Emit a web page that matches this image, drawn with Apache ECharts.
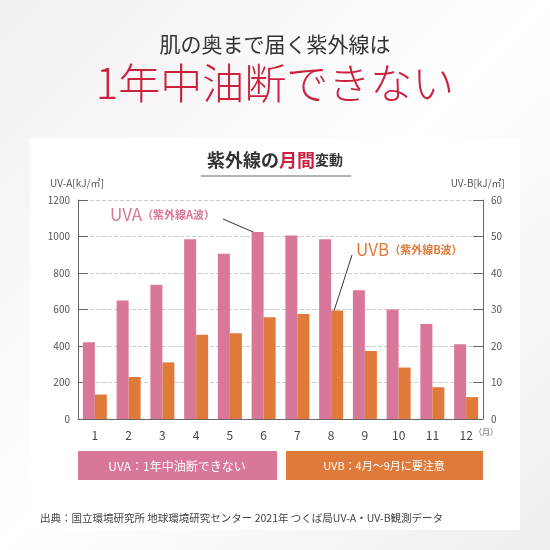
<!DOCTYPE html>
<html><head><meta charset="utf-8">
<script src="https://cdn.jsdelivr.net/npm/echarts@6/dist/echarts.min.js"></script>
<style>html,body{margin:0;padding:0;}#c{width:550px;height:550px;background:linear-gradient(135deg,#f3eef0 0%,#ffffff 50%,#eeeeee 100%);}</style>
</head><body><div id="c"></div>
<script>
const months = ['1','2','3','4','5','6','7','8','9','10','11','12'];
const uva = [420, 650, 735, 985, 905, 1025, 1005, 985, 705, 600, 520, 410];
const uvb = [6.7, 11.5, 15.5, 23.1, 23.5, 27.9, 28.8, 29.7, 18.6, 14.1, 8.7, 6.0];
const PINK = '#d8779a', ORANGE = '#df7a3a';
const F = '"Noto Sans CJK JP", "Noto Sans", sans-serif';

const chart = echarts.init(document.getElementById('c'));
chart.setOption({
  textStyle: { fontFamily: F },
  grid: { left: 78, right: 67, top: 200, bottom: 131 },
  graphic: [
    { type: 'rect', shape: { x: 30, y: 138, width: 490, height: 392 }, style: { fill: '#ffffff' }, z: -10 },
    { type: 'text', left: 'center', top: 34, style: { text: '肌の奥まで届く紫外線は', fill: '#333', font: '400 21px ' + F } },
    { type: 'text', left: 'center', top: 62, style: { text: '1年中油断できない', fill: '#c9223f', font: '300 42px ' + F } },
    { type: 'text', left: 'center', top: 151, style: {
        text: '{a|紫外線の}{b|月間}{c|変動}',
        rich: { a: { fontSize: 18, fontWeight: 'bold', fill: '#333', fontFamily: F },
                b: { fontSize: 18, fontWeight: 'bold', fill: '#c9223f', fontFamily: F },
                c: { fontSize: 14, fontWeight: 'bold', fill: '#333', fontFamily: F } } } },
    { type: 'line', shape: { x1: 201, y1: 176, x2: 351, y2: 176 }, style: { stroke: '#666', lineWidth: 1 } },
    { type: 'text', left: 110, top: 206, style: { text: '{a|UVA}{b|（紫外線A波）}',
        rich: { a: { fontSize: 17, fill: PINK, fontFamily: F }, b: { fontSize: 11, fill: PINK, fontWeight: 'bold', fontFamily: F } } } },
    { type: 'line', shape: { x1: 223, y1: 219, x2: 260, y2: 235 }, style: { stroke: '#333', lineWidth: 1 } },
    { type: 'text', left: 356, top: 241, style: { text: '{a|UVB}{b|（紫外線B波）}',
        rich: { a: { fontSize: 17, fill: ORANGE, fontFamily: F }, b: { fontSize: 11, fill: ORANGE, fontWeight: 'bold', fontFamily: F } } } },
    { type: 'line', shape: { x1: 352, y1: 255, x2: 333, y2: 314 }, style: { stroke: '#333', lineWidth: 1 } },
    { type: 'rect', shape: { x: 78, y: 451, width: 199, height: 29 }, style: { fill: PINK } },
    { type: 'text', x: 177, y: 466, style: { text: 'UVA：1年中油断できない', fill: '#fff', font: '12px ' + F, align: 'center', verticalAlign: 'middle' } },
    { type: 'rect', shape: { x: 286, y: 451, width: 197, height: 29 }, style: { fill: ORANGE } },
    { type: 'text', x: 384, y: 466, style: { text: 'UVB：4月〜9月に要注意', fill: '#fff', font: '11px ' + F, align: 'center', verticalAlign: 'middle' } },
    { type: 'text', left: 40, top: 513, style: { text: '出典：国立環境研究所 地球環境研究センター 2021年 つくば局UV-A・UV-B観測データ', fill: '#444', font: '10.5px ' + F } },
    { type: 'text', left: 474, top: 428, style: { text: '（月）', fill: '#555', font: '8px ' + F } }
  ],
  xAxis: {
    type: 'category', data: months,
    axisLine: { lineStyle: { color: '#666' } }, axisTick: { show: false },
    axisLabel: { color: '#444', fontSize: 12, margin: 10 }
  },
  yAxis: [
    { type: 'value', min: 0, max: 1200, interval: 200, name: 'UV-A[kJ/㎡]', nameGap: 12,
      nameTextStyle: { color: '#555', fontSize: 10, align: 'left', padding: [0, 0, 0, -28] },
      axisLine: { show: true, lineStyle: { color: '#666' } },
      axisTick: { show: true, inside: true, length: 10, lineStyle: { color: '#666' } },
      axisLabel: { color: '#555', fontSize: 10, formatter: v => String(v) },
      splitLine: { lineStyle: { color: '#ccc', type: 'dashed' } } },
    { type: 'value', min: 0, max: 60, interval: 10, name: 'UV-B[kJ/㎡]', nameGap: 12,
      nameTextStyle: { color: '#555', fontSize: 10, align: 'right', padding: [0, -22, 0, 0] },
      axisLine: { show: true, lineStyle: { color: '#666' } },
      axisTick: { show: true, inside: true, length: 10, lineStyle: { color: '#666' } },
      axisLabel: { color: '#555', fontSize: 10 },
      splitLine: { show: false } }
  ],
  series: [
    { name: 'UVA', type: 'bar', data: uva, barWidth: 12, barGap: '0%', itemStyle: { color: PINK } },
    { name: 'UVB', type: 'bar', yAxisIndex: 1, data: uvb, barWidth: 12, itemStyle: { color: ORANGE } }
  ]
});
</script></body></html>
